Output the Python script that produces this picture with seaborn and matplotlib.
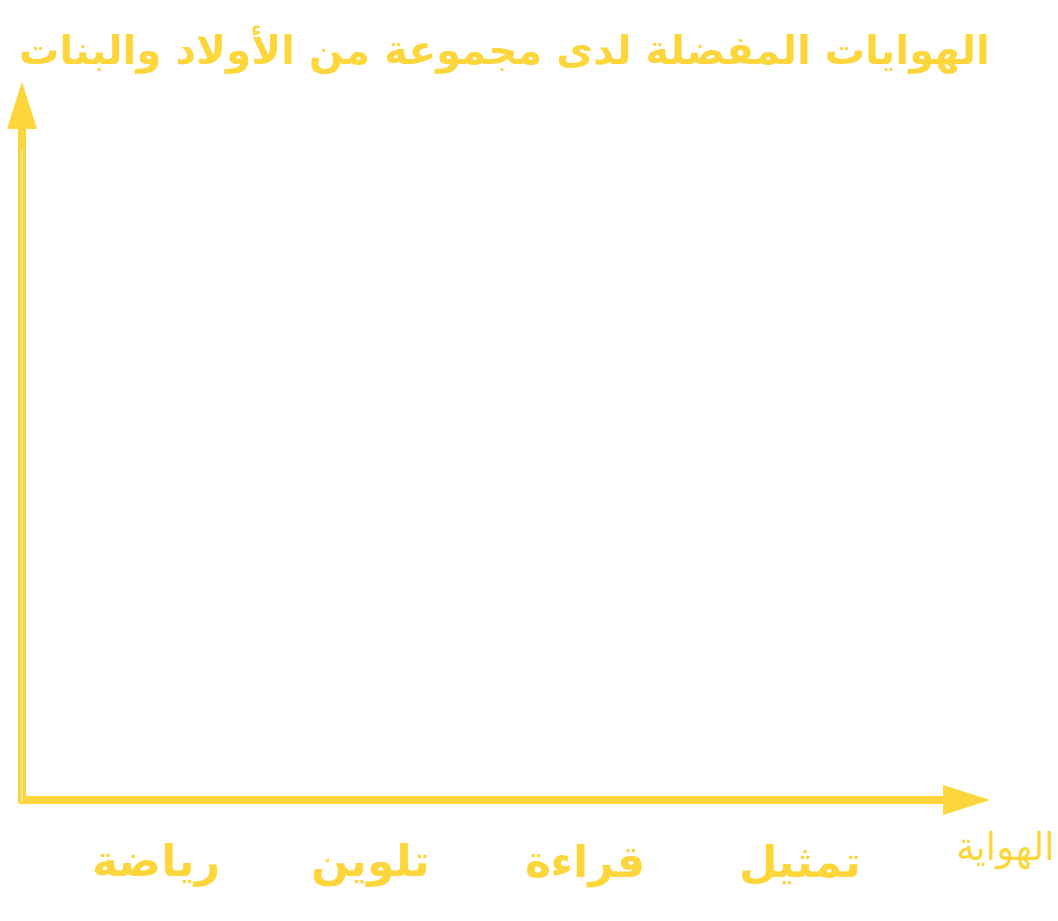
import matplotlib
matplotlib.use("Agg")
import matplotlib.pyplot as plt
import seaborn as sns

# -----------------------------------
# DATA
# -----------------------------------

title_text = "الهوايات المفضلة لدى مجموعة من الأولاد والبنات"
x_label = "الهواية"
categories = ["رياضة", "تلوين", "قراءة", "تمثيل"]
counts = [0, 0, 0, 0]
y_ticks = [0, 1, 2, 3, 4, 5, 6, 7]

YELLOW = "#FCD63A"
LIGHT = "#FCE58C"

# -----------------------------------
# ARABIC SHAPING (no reshaper lib available)
# -----------------------------------

FORMS = {
    "\u0621": (0xFE80, 1), "\u0623": (0xFE83, 2), "\u0627": (0xFE8D, 2),
    "\u0628": (0xFE8F, 4), "\u0629": (0xFE93, 2), "\u062A": (0xFE95, 4),
    "\u062B": (0xFE99, 4), "\u062C": (0xFE9D, 4), "\u062F": (0xFEA9, 2),
    "\u0631": (0xFEAD, 2), "\u0636": (0xFEBD, 4), "\u0639": (0xFEC9, 4),
    "\u0641": (0xFED1, 4), "\u0642": (0xFED5, 4), "\u0644": (0xFEDD, 4),
    "\u0645": (0xFEE1, 4), "\u0646": (0xFEE5, 4), "\u0647": (0xFEE9, 4),
    "\u0648": (0xFEED, 2), "\u0649": (0xFEEF, 2), "\u064A": (0xFEF1, 4),
    "LA": (0xFEFB, 2), "LAA": (0xFEF7, 2),
}


def shape(text):
    units = []
    i = 0
    while i < len(text):
        c = text[i]
        if c == "\u0644" and i + 1 < len(text) and text[i + 1] in "\u0627\u0623":
            units.append("LA" if text[i + 1] == "\u0627" else "LAA")
            i += 2
            continue
        units.append(c)
        i += 1
    out = []
    for k, u in enumerate(units):
        if u not in FORMS:
            out.append(u)
            continue
        base, n = FORMS[u]
        prev = units[k - 1] if k > 0 else None
        nxt = units[k + 1] if k + 1 < len(units) else None
        join_prev = n > 1 and prev in FORMS and FORMS[prev][1] == 4
        join_next = n == 4 and nxt in FORMS and FORMS[nxt][1] > 1
        if join_prev and join_next:
            off = 3
        elif join_prev:
            off = 1
        elif join_next:
            off = 2
        else:
            off = 0
        out.append(chr(base + off))
    return "".join(reversed(out))


# -----------------------------------
# PLOT
# -----------------------------------

sns.set_style("white")
plt.rcParams["font.family"] = ["DejaVu Sans"]

fig = plt.figure(figsize=(10.58, 9.21), dpi=100)
ax = fig.add_axes([22 / 1058, 121 / 921, 923 / 1058, 650 / 921])

sns.barplot(x=[shape(c) for c in categories], y=counts, color=YELLOW, ax=ax)

ax.set_ylim(0, 7)
ax.set_xlim(-0.62, 3.67)
ax.set_yticks(y_ticks)
ax.set_yticklabels([])
ax.set_ylabel("")
ax.tick_params(axis="y", direction="in", length=4, width=1.5, color=LIGHT)
ax.tick_params(axis="x", length=0, pad=31, labelsize=32, labelcolor=YELLOW)
for lbl in ax.get_xticklabels():
    lbl.set_fontweight("bold")

for s in ["top", "right", "bottom"]:
    ax.spines[s].set_visible(False)
ax.spines["left"].set_color(LIGHT)
ax.spines["left"].set_linewidth(1.5)

# axis arrows (filled polygons, sizes in points)
arrow = dict(arrowstyle="simple,head_length=34,head_width=21.6,tail_width=5.8",
             mutation_scale=1, lw=0, color=YELLOW, shrinkA=0, shrinkB=0)
ax.annotate("", xy=(0, 1.105), xytext=(0, -0.004), xycoords="axes fraction",
            arrowprops=arrow, annotation_clip=False, zorder=1.2)
ax.annotate("", xy=(1.049, 0), xytext=(-0.003, 0), xycoords="axes fraction",
            arrowprops=arrow, annotation_clip=False, zorder=1.2)

fig.text(990 / 1058, 1 - 50 / 921, shape(title_text), ha="right", va="center",
         fontsize=29, fontweight="bold", color=YELLOW)
fig.text(1055 / 1058, 1 - 850 / 921, shape(x_label), ha="right", va="center",
         fontsize=27, color=YELLOW)

plt.savefig("out.png", dpi=100)
